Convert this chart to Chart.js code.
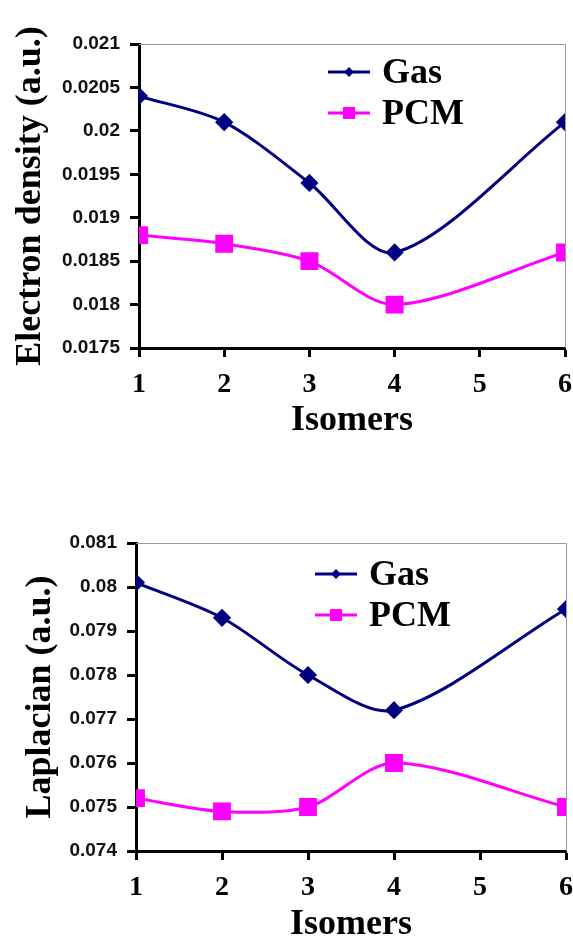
<!DOCTYPE html>
<html>
<head>
<meta charset="utf-8">
<script src="https://cdn.jsdelivr.net/npm/chart.js@4"></script>
<style>
  html, body { margin: 0; padding: 0; background: #fff; }
  body { width: 573px; height: 939px; position: relative; overflow: hidden; }
  .panel { position: absolute; left: 0; width: 573px; }
  #top { top: 0; height: 470px; }
  #bottom { top: 470px; height: 469px; }
</style>
</head>
<body>
<div class="panel" id="top"><canvas id="densityChart"></canvas></div>
<div class="panel" id="bottom"><canvas id="laplacianChart"></canvas></div>
<script>
// data
const isomers = [1, 2, 3, 4, 6];
const gasDensity = [0.0204, 0.0201, 0.0194, 0.0186, 0.0201];
const pcmDensity = [0.0188, 0.0187, 0.0185, 0.0180, 0.0186];
const gasLaplacian = [0.0801, 0.0793, 0.0780, 0.0772, 0.0795];
const pcmLaplacian = [0.0752, 0.0749, 0.0750, 0.0760, 0.0750];
const seriesNames = ['Gas', 'PCM'];
const xTicks = [1, 2, 3, 4, 5, 6];

const NAVY = '#000080';
const MAGENTA = '#ff00ff';
const serif = "'Liberation Serif', 'Times New Roman', serif";
const sans = "'Liberation Sans', Arial, sans-serif";

function points(ys) {
  return isomers.map((x, i) => ({ x: x, y: ys[i] }));
}

// gray frame on top/right + legend inside plot
const framePlugin = {
  id: 'frame',
  beforeDatasetsDraw(chart) {
    const a = chart.chartArea, ctx = chart.ctx;
    ctx.save();
    ctx.strokeStyle = '#9a9a9a';
    ctx.lineWidth = 1;
    ctx.beginPath();
    ctx.moveTo(a.left, a.top + 0.5);
    ctx.lineTo(a.right + 0.5, a.top + 0.5);
    ctx.lineTo(a.right + 0.5, a.bottom);
    ctx.stroke();
    ctx.restore();
  }
};

const boxLegend = {
  id: 'boxLegend',
  afterDraw(chart, args, opts) {
    const ctx = chart.ctx;
    ctx.save();
    chart.data.datasets.forEach((ds, i) => {
      const y = opts.y + i * opts.gap;
      const x0 = opts.x, x1 = opts.x + 42, cx = (x0 + x1) / 2;
      ctx.strokeStyle = ds.borderColor;
      ctx.lineWidth = 3;
      ctx.beginPath();
      ctx.moveTo(x0, y);
      ctx.lineTo(x1, y);
      ctx.stroke();
      ctx.fillStyle = ds.borderColor;
      ctx.beginPath();
      if (ds.pointStyle === 'rectRot') {
        const r = 5;
        ctx.moveTo(cx - r, y); ctx.lineTo(cx, y - r); ctx.lineTo(cx + r, y); ctx.lineTo(cx, y + r);
        ctx.closePath();
      } else {
        ctx.rect(cx - 6, y - 6, 12, 12);
      }
      ctx.fill();
      ctx.fillStyle = '#000';
      ctx.font = 'bold 36px ' + serif;
      ctx.textBaseline = 'middle';
      ctx.textAlign = 'left';
      ctx.fillText(ds.label, x1 + 12, y + 2);
    });
    ctx.restore();
  }
};

function makeChart(id, gas, pcm, yMin, yMax, yStep, yTitle, cfg) {
  const ctx = document.getElementById(id).getContext('2d');
  return new Chart(ctx, {
    type: 'line',
    data: {
      datasets: [{
        label: seriesNames[0],
        data: points(gas),
        borderColor: NAVY,
        backgroundColor: NAVY,
        borderWidth: 3,
        pointStyle: 'rectRot',
        pointRadius: 7,
        pointHoverRadius: 7,
        tension: 0.3
      }, {
        label: seriesNames[1],
        data: points(pcm),
        borderColor: MAGENTA,
        backgroundColor: MAGENTA,
        borderWidth: 3,
        pointStyle: 'rect',
        pointRadius: 10.5,
        pointHoverRadius: 10.5,
        tension: 0.3
      }]
    },
    options: {
      responsive: true,
      maintainAspectRatio: false,
      animation: false,
      events: [],
      layout: { padding: cfg.padding, autoPadding: false },
      plugins: {
        legend: { display: false },
        tooltip: { enabled: false },
        boxLegend: cfg.legend
      },
      scales: {
        x: {
          type: 'linear',
          min: 1,
          max: 6,
          afterBuildTicks: (s) => { s.ticks = xTicks.map(v => ({ value: v })); },
          afterFit: (s) => { s.height = cfg.xHeight; s.paddingLeft = 0; s.paddingRight = 0; },
          border: { color: '#000', width: 3 },
          grid: { drawOnChartArea: false, drawTicks: true, tickLength: 9, tickColor: '#000', tickWidth: 3 },
          ticks: { color: '#000', padding: 11, font: { family: serif, size: 28, weight: 'bold' } },
          title: {
            display: true, text: 'Isomers', color: '#000',
            padding: cfg.xTitlePad,
            font: { family: serif, size: 36, weight: 'bold', lineHeight: cfg.xTitleLH }
          }
        },
        y: {
          min: yMin,
          max: yMax,
          afterFit: (s) => { s.width = cfg.yWidth; s.paddingTop = 0; s.paddingBottom = 0; },
          border: { color: '#000', width: 3 },
          grid: { drawOnChartArea: false, drawTicks: true, tickLength: 9, tickColor: '#000', tickWidth: 3 },
          ticks: {
            stepSize: yStep,
            color: '#111',
            padding: 10,
            font: { family: sans, size: 19, weight: 'bold' },
            callback: (v) => String(parseFloat(v.toFixed(6)))
          },
          title: {
            display: true, text: yTitle, color: '#000',
            font: { family: serif, size: 36, weight: 'bold' }
          }
        }
      }
    },
    plugins: [framePlugin, boxLegend]
  });
}

makeChart('densityChart', gasDensity, pcmDensity, 0.0175, 0.021, 0.0005, 'Electron density (a.u.)', {
  padding: { left: 5, right: 8, top: 44, bottom: 24 },
  yWidth: 134,
  xHeight: 98,
  xTitlePad: 4,
  xTitleLH: 1.2,
  legend: { x: 328, y: 72, gap: 41 }
});

makeChart('laplacianChart', gasLaplacian, pcmLaplacian, 0.074, 0.081, 0.001, 'Laplacian (a.u.)', {
  padding: { left: 15, right: 7, top: 73, bottom: 0 },
  yWidth: 121,
  xHeight: 88,
  xTitlePad: 0,
  xTitleLH: 0.8,
  legend: { x: 315, y: 104, gap: 41 }
});
</script>
</body>
</html>
